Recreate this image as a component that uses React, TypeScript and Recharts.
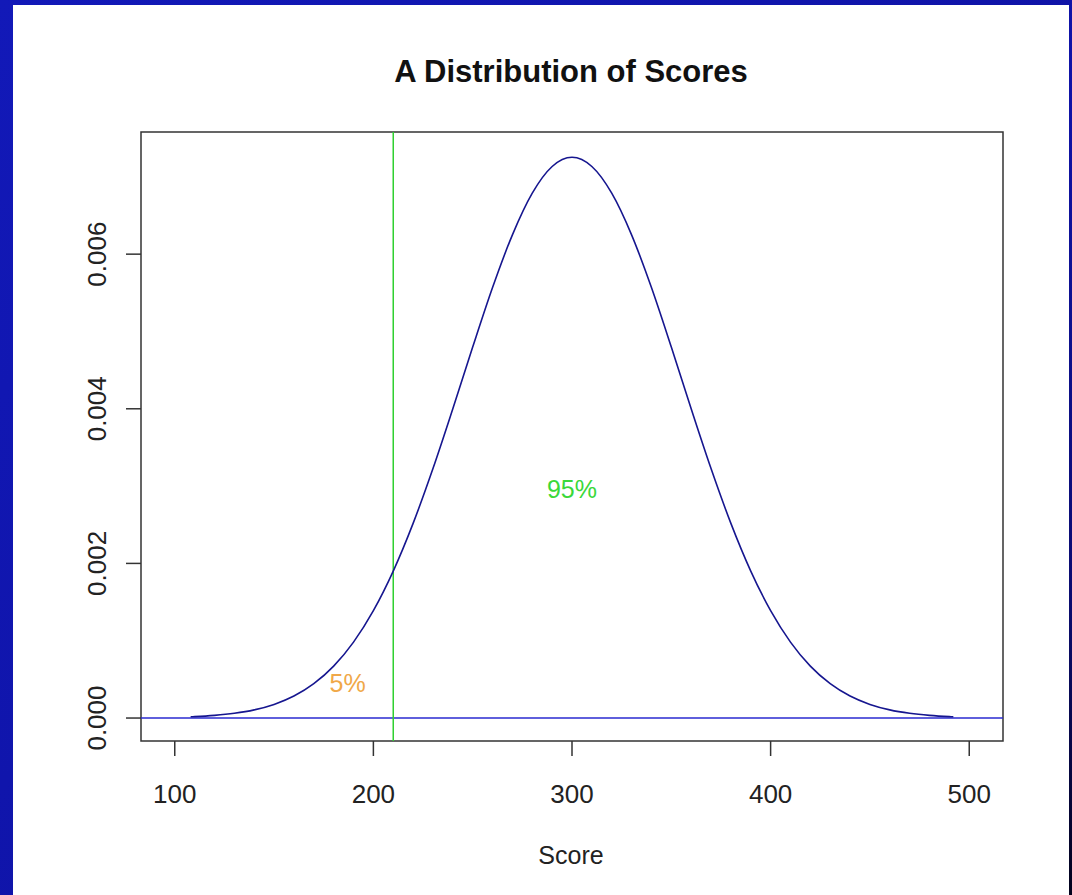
import { LineChart, Line, XAxis, YAxis, ReferenceLine, ReferenceArea, ReferenceDot } from 'recharts'

// scores along the x axis and the density
const scores = [108, 110, 120, 130, 140, 150, 160, 170, 180, 190, 200, 210, 220, 230, 240, 250, 260, 270, 280, 290, 300,
  310, 320, 330, 340, 350, 360, 370, 380, 390, 400, 410, 420, 430, 440, 450, 460, 470, 480, 490, 492]
const density = [0.0000164, 0.0000186, 0.0000342, 0.0000611, 0.0001055, 0.000176, 0.000284, 0.000444, 0.000671, 0.000982,
  0.001389, 0.001901, 0.002518, 0.003227, 0.004, 0.004798, 0.005568, 0.00625, 0.006789, 0.007134, 0.007253,
  0.007134, 0.006789, 0.00625, 0.005568, 0.004798, 0.004, 0.003227, 0.002518, 0.001901, 0.001389,
  0.000982, 0.000671, 0.000444, 0.000284, 0.000176, 0.0001055, 0.0000611, 0.0000342, 0.0000186, 0.0000164]

const xTicks = [100, 200, 300, 400, 500]
const yTicks = [0, 0.002, 0.004, 0.006]
const xDomain = [83, 517]
const yDomain = [-0.000297, 0.00758]

const cutoff = 210
const lowLabel = { x: 187, y: 0.00045, text: '5%' }
const highLabel = { x: 300, y: 0.00296, text: '95%' }

const chartData = scores.map((s, i) => ({ score: s, density: density[i] }))

const FONT = '"Liberation Sans", Arial, sans-serif'

function YTick(props: any) {
  const { x, y, payload } = props
  const cx = x - 27
  return (
    <text x={cx} y={y} textAnchor="middle" dominantBaseline="central" transform={`rotate(-90, ${cx}, ${y})`}
      fontSize={26} fill="#222" fontFamily={FONT}>
      {payload.value.toFixed(3)}
    </text>
  )
}

function XTick(props: any) {
  const { x, y, payload } = props
  return (
    <text x={x} y={y + 36} textAnchor="middle" dominantBaseline="central" fontSize={26} fill="#222" fontFamily={FONT}>
      {payload.value}
    </text>
  )
}

export default function App() {
  return (
    <div style={{ position: 'absolute', left: 0, top: 0, width: 1072, height: 895, overflow: 'hidden',
      background: 'linear-gradient(135deg, #1219b8 0%, #0f13a6 60%, #0a0c70 85%, #02021c 100%)' }}>
      <div style={{ position: 'absolute', left: 13, top: 5, width: 1056, height: 890, background: '#fff' }} />
      <div style={{ position: 'absolute', left: 0, top: 72, width: 1142, textAlign: 'center', fontFamily: FONT,
        fontWeight: 'bold', fontSize: 31, color: '#111', lineHeight: '0px' }}>
        A Distribution of Scores
      </div>
      <div style={{ position: 'absolute', left: 0, top: 855, width: 1142, textAlign: 'center', fontFamily: FONT,
        fontSize: 25, color: '#222', lineHeight: '0px' }}>
        Score
      </div>
      <div style={{ position: 'absolute', left: 0, top: 0 }}>
        <LineChart width={1072} height={895} data={chartData}
          margin={{ top: 132, right: 69, left: 81, bottom: 94 }}>
          <XAxis dataKey="score" type="number" domain={xDomain} ticks={xTicks} allowDataOverflow
            axisLine={false} tickSize={15} tickLine={{ stroke: '#333', strokeWidth: 1.5 }} tick={<XTick />} height={60} />
          <YAxis type="number" domain={yDomain} ticks={yTicks} allowDataOverflow
            axisLine={false} tickSize={15} tickLine={{ stroke: '#333', strokeWidth: 1.5 }} tick={<YTick />} width={60} />
          <ReferenceArea x1={xDomain[0]} x2={xDomain[1]} y1={yDomain[0]} y2={yDomain[1]}
            fill="none" fillOpacity={0} stroke="#333" strokeWidth={1.5} />
          <ReferenceLine y={0} stroke="#2a2ad0" strokeWidth={1.5} />
          <ReferenceLine x={cutoff} stroke="#2fd02f" strokeWidth={1.5} />
          <Line type="monotone" dataKey="density" stroke="#16168f" strokeWidth={1.6} dot={false} isAnimationActive={false} />
          <ReferenceDot x={lowLabel.x} y={lowLabel.y} r={0} fill="none" stroke="none"
            label={{ value: lowLabel.text, position: 'center', fill: '#f0a848', fontSize: 25, fontFamily: FONT }} />
          <ReferenceDot x={highLabel.x} y={highLabel.y} r={0} fill="none" stroke="none"
            label={{ value: highLabel.text, position: 'center', fill: '#3ad83a', fontSize: 25, fontFamily: FONT }} />
        </LineChart>
      </div>
    </div>
  )
}
